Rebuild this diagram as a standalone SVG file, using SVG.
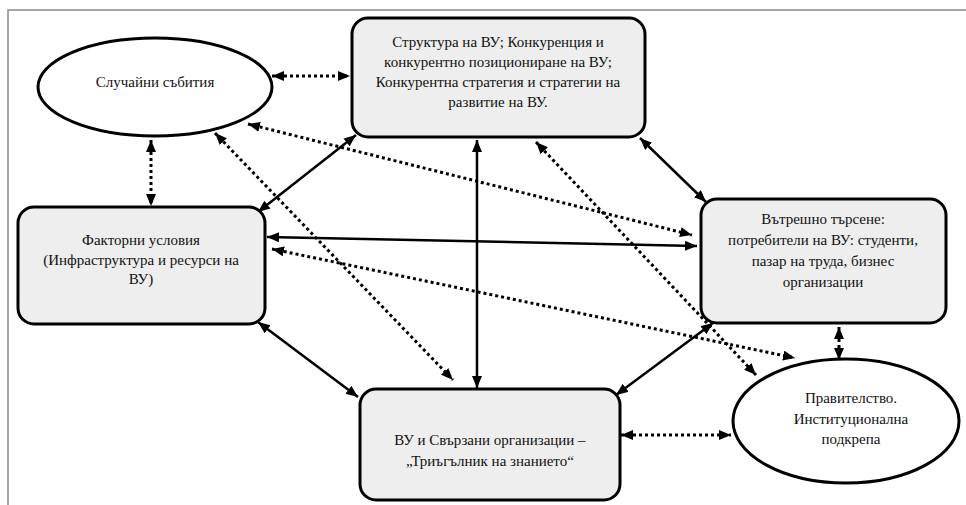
<svg xmlns="http://www.w3.org/2000/svg" width="966" height="505" viewBox="0 0 966 505">
<style>
.box{fill:#eeeeee;stroke:#000;stroke-width:3}
.ell{fill:#fff;stroke:#000;stroke-width:3}
.t{font-family:"Liberation Serif","Times New Roman",serif;font-size:15px;fill:#111;text-anchor:middle}
.solid{stroke:#000;stroke-width:2.5;fill:none;marker-start:url(#ah);marker-end:url(#ah)}
.dot{stroke:#000;stroke-width:3;stroke-dasharray:3 3;fill:none;marker-start:url(#ah);marker-end:url(#ah)}
.frame{stroke:#8a8a8a;stroke-width:1.5;fill:none}
</style>
<defs>
<marker id="ah" markerUnits="userSpaceOnUse" markerWidth="13" markerHeight="11" refX="12" refY="5" orient="auto-start-reverse" viewBox="0 0 13 11">
<path d="M0,0 L12,5 L0,10 z" fill="#000"/>
</marker>
</defs>
<rect width="966" height="505" fill="#fff"/>
<path class="frame" d="M8,505 L8,10 L966,10"/>
<g id="connectors">
<line class="dot" x1="272" y1="76" x2="350" y2="76"/>
<line class="dot" x1="151" y1="140" x2="151" y2="206"/>
<line class="solid" x1="258" y1="212" x2="356" y2="135"/>
<line class="dot" x1="248" y1="124" x2="692" y2="235"/>
<line class="dot" x1="215" y1="133" x2="453" y2="380"/>
<line class="solid" x1="267" y1="237" x2="697" y2="246"/>
<line class="dot" x1="272" y1="249" x2="795" y2="358"/>
<line class="dot" x1="536" y1="142" x2="756" y2="375"/>
<line class="solid" x1="477" y1="140" x2="477" y2="388"/>
<line class="solid" x1="640" y1="138" x2="706" y2="202"/>
<line class="solid" x1="258" y1="322" x2="358" y2="397"/>
<line class="solid" x1="713" y1="323" x2="616" y2="395"/>
<line class="dot" x1="839" y1="327" x2="839" y2="360"/>
<line class="dot" x1="621" y1="435" x2="731" y2="435"/>
</g>
<g id="n-sluchaini">
<ellipse class="ell" cx="155" cy="87" rx="117" ry="49"/>
<text class="t" x="155" y="87">Случайни събития</text>
</g>
<g id="n-struktura">
<rect class="box" x="352" y="18" width="293" height="119" rx="16"/>
<text class="t" x="498" y="47">Структура на ВУ; Конкуренция и</text>
<text class="t" x="498" y="67">конкурентно позициониране на ВУ;</text>
<text class="t" x="498" y="87">Конкурентна стратегия и стратегии на</text>
<text class="t" x="498" y="107">развитие на ВУ.</text>
</g>
<g id="n-faktorni">
<rect class="box" x="18" y="207" width="247" height="117" rx="16"/>
<text class="t" x="141" y="245">Факторни условия</text>
<text class="t" x="141" y="265">(Инфраструктура и ресурси на</text>
<text class="t" x="141" y="284">ВУ)</text>
</g>
<g id="n-tarsene">
<rect class="box" x="701" y="199" width="245" height="124" rx="16"/>
<text class="t" x="823" y="224">Вътрешно търсене:</text>
<text class="t" x="823" y="245">потребители на ВУ: студенти,</text>
<text class="t" x="823" y="266">пазар на труда, бизнес</text>
<text class="t" x="823" y="287">организации</text>
</g>
<g id="n-vu">
<rect class="box" x="360" y="389" width="260" height="111" rx="16"/>
<text class="t" x="490" y="445">ВУ и Свързани организации –</text>
<text class="t" x="490" y="466">„Триъгълник на знанието“</text>
</g>
<g id="n-pravitelstvo">
<ellipse class="ell" cx="846" cy="421" rx="113" ry="62"/>
<text class="t" x="851" y="403">Правителство.</text>
<text class="t" x="851" y="424">Институционална</text>
<text class="t" x="851" y="444">подкрепа</text>
</g>
</svg>
